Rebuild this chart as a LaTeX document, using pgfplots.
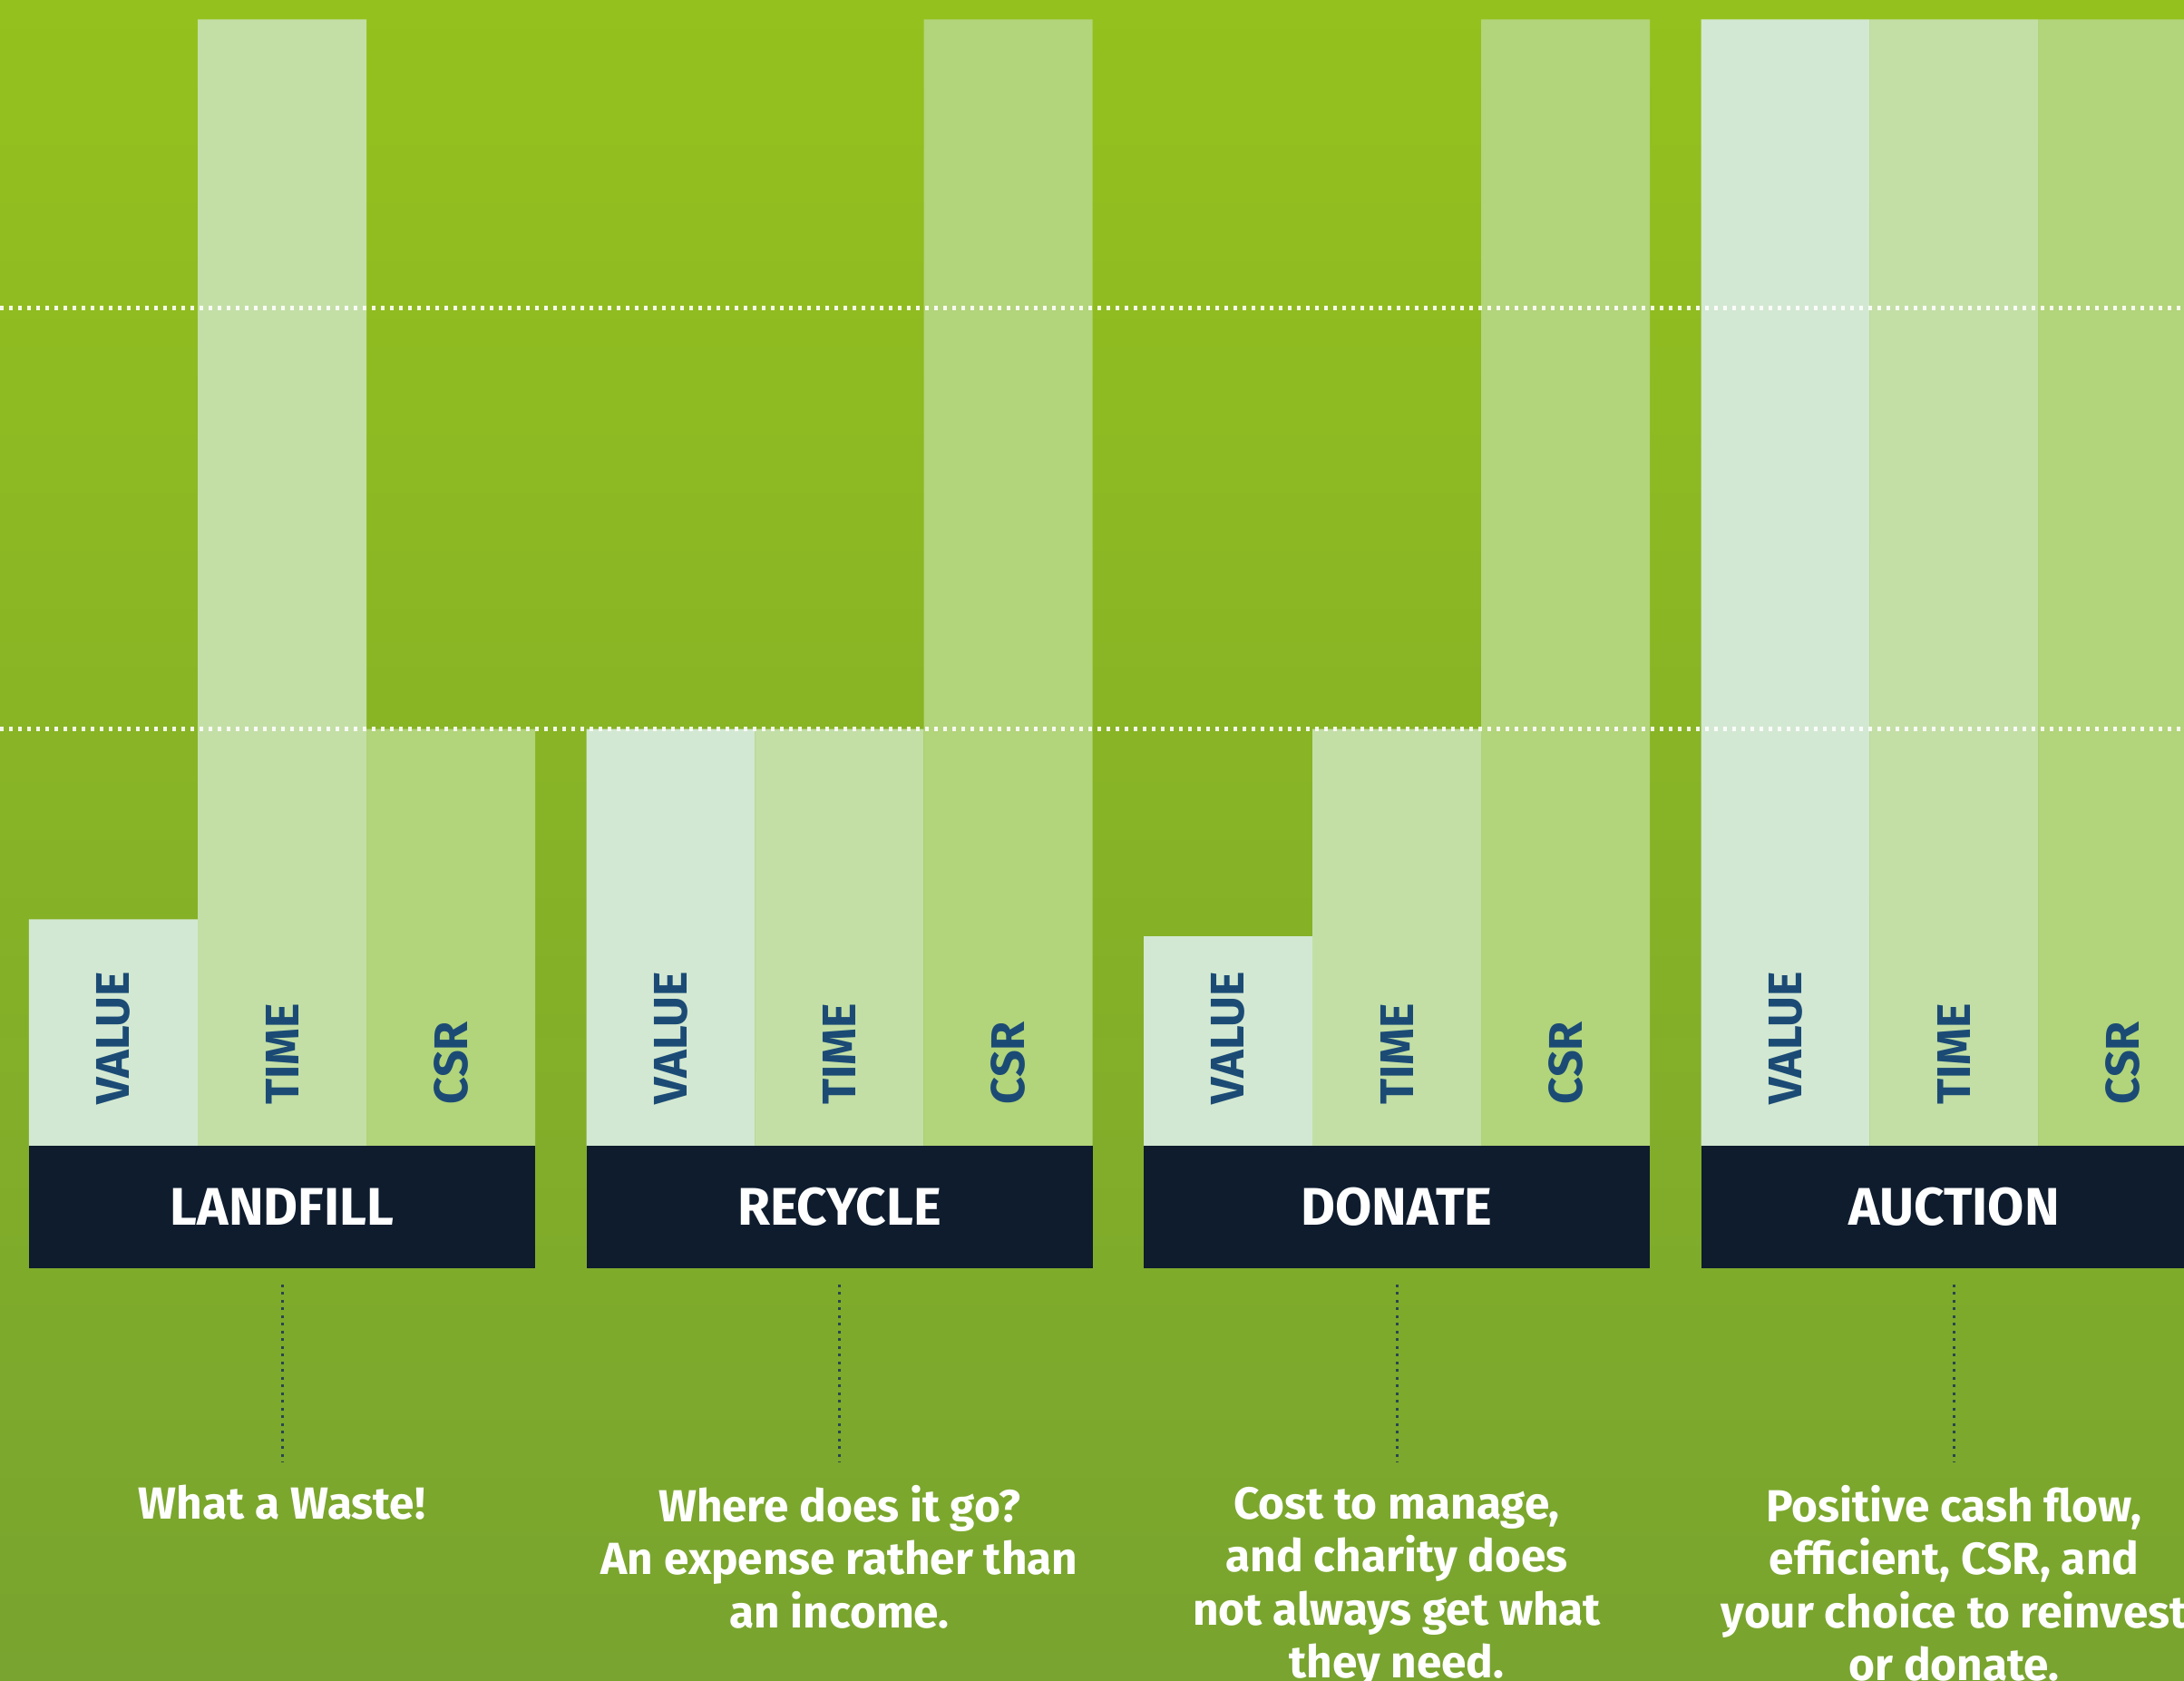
\documentclass[border=0pt]{standalone}
\usepackage{pgfplots}
\pgfplotsset{compat=1.18}
\usepackage{fontspec}
\setmainfont{Fira Sans}
\definecolor{bgtop}{RGB}{149,193,30}
\definecolor{bgbot}{RGB}{120,164,47}
\definecolor{cval}{RGB}{211,232,210}
\definecolor{ctime}{RGB}{195,223,166}
\definecolor{ccsr}{RGB}{178,212,122}
\definecolor{navy}{RGB}{14,28,46}
\definecolor{lbl}{RGB}{27,75,117}
\definecolor{dotc}{RGB}{40,70,80}
\begin{document}
\begin{tikzpicture}
\begin{scope}
\clip (0,0) rectangle (240.8mm,185.2mm);
\begin{axis}[at={(0,0)}, anchor=south west,
  width=240.8mm, height=185.2mm, scale only axis,
  xmin=-0.5061, xmax=3.4125, ymin=-47.44, ymax=101.73,
  axis line style={draw=none},
  axis background/.style={top color=bgtop, bottom color=bgbot},
  xtick=\empty, ytick={37,74.4}, yticklabels={}, major tick length=0pt,
  ymajorgrids, grid style={white, line width=0.45mm, dash pattern=on 0.4mm off 0.6mm, opacity=0.9},
  axis on top,
  ybar, bar width=0.3027,
]
% VALUE
\addplot[fill=cval, draw=none, bar shift=-0.3027] coordinates {(0,20.1) (1,37) (2,18.6) (3,100)};
% TIME
\addplot[fill=ctime, draw=none, bar shift=0] coordinates {(0,100) (1,37) (2,37) (3,100)};
% CSR
\addplot[fill=ccsr, draw=none, bar shift=0.3027] coordinates {(0,37) (1,100) (2,100) (3,100)};

% category boxes
\fill[navy] (axis cs:-0.454,0) rectangle (axis cs:0.454,-10.87);
\fill[navy] (axis cs:0.546,0) rectangle (axis cs:1.454,-10.87);
\fill[navy] (axis cs:1.546,0) rectangle (axis cs:2.454,-10.87);
\fill[navy] (axis cs:2.546,0) rectangle (axis cs:3.454,-10.87);
\tikzset{cat/.style={white, inner sep=0pt, font=\fontsize{16.6pt}{19pt}\selectfont\bfseries}}
\node[cat] at (axis cs:0,-5.4) {LANDFILL};
\node[cat] at (axis cs:1,-5.4) {RECYCLE};
\node[cat] at (axis cs:2,-5.4) {DONATE};
\node[cat] at (axis cs:3,-5.4) {AUCTION};

% bar labels
\tikzset{bl/.style={rotate=90, anchor=west, inner sep=0pt, text=lbl, font=\fontsize{14.8pt}{17pt}\selectfont\bfseries}}
\node[bl] at (axis cs:-0.3027,3.62) {VALUE};
\node[bl] at (axis cs:0,3.62) {TIME};
\node[bl] at (axis cs:0.3027,3.62) {CSR};
\node[bl] at (axis cs:0.6973,3.62) {VALUE};
\node[bl] at (axis cs:1,3.62) {TIME};
\node[bl] at (axis cs:1.3027,3.62) {CSR};
\node[bl] at (axis cs:1.6973,3.62) {VALUE};
\node[bl] at (axis cs:2,3.62) {TIME};
\node[bl] at (axis cs:2.3027,3.62) {CSR};
\node[bl] at (axis cs:2.6973,3.62) {VALUE};
\node[bl] at (axis cs:3,3.62) {TIME};
\node[bl] at (axis cs:3.3027,3.62) {CSR};

% connectors
\tikzset{con/.style={dotc, line width=0.3mm, dash pattern=on 0.3mm off 0.55mm}}
\draw[con] (axis cs:0,-12.32) -- (axis cs:0,-28.11);
\draw[con] (axis cs:1,-12.32) -- (axis cs:1,-28.11);
\draw[con] (axis cs:2,-12.32) -- (axis cs:2,-28.11);
\draw[con] (axis cs:3,-12.32) -- (axis cs:3,-28.11);

% descriptions
\tikzset{desc/.style={anchor=north, align=center, inner sep=0pt, text=white, font=\fontsize{14.1pt}{16.65pt}\selectfont\bfseries}}
\node[desc] at (axis cs:0,-30.05) {\vphantom{h}What a Waste!};
\node[desc] at (axis cs:1,-30.05) {\vphantom{h}Where does it go?\\An expense rather than\\an income.};
\node[desc] at (axis cs:2,-30.05) {\vphantom{h}Cost to manage,\\and charity does\\not always get what\\they need.};
\node[desc] at (axis cs:3,-30.05) {\vphantom{h}Positive cash flow,\\efficient, CSR, and\\your choice to reinvest\\or donate.};
\end{axis}
\end{scope}
\end{tikzpicture}
\end{document}
